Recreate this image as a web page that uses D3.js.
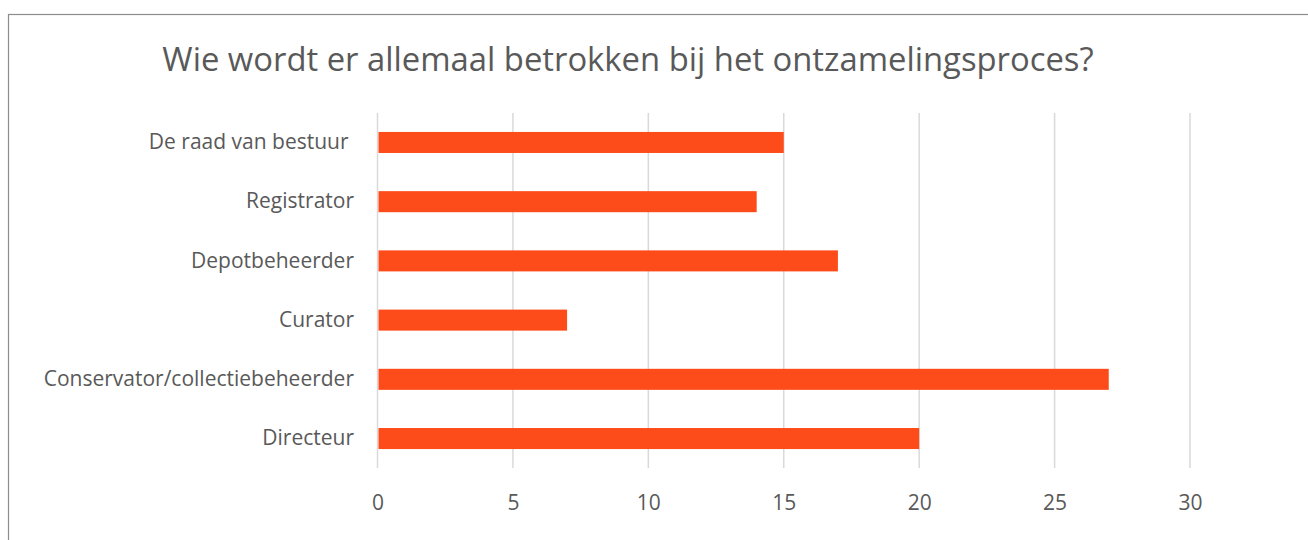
<!DOCTYPE html>
<html>
<head>
<meta charset="utf-8">
<script src="https://cdn.jsdelivr.net/npm/d3@7"></script>
<style>
  body { margin: 0; background: #fff; }
  text { font-family: "Open Sans", sans-serif; fill: #595959; }
</style>
</head>
<body>
<svg width="1308" height="540"></svg>
<script>
// chart data
var categories = ["De raad van bestuur ", "Registrator", "Depotbeheerder", "Curator", "Conservator/collectiebeheerder", "Directeur"];
var values = [15, 14, 17, 7, 27, 20];
var tickValues = [0, 5, 10, 15, 20, 25, 30];
var title = "Wie wordt er allemaal betrokken bij het ontzamelingsproces?";

var svg = d3.select("svg"),
  margin = {top: 113, right: 118, bottom: 72, left: 377.5},
  width = svg.attr("width") - margin.left - margin.right,
  height = svg.attr("height") - margin.top - margin.bottom,
  g = svg.append("g").attr("transform", "translate(" + margin.left + "," + margin.top + ")");

// chart area border (runs off the right and bottom)
svg.append("rect")
  .attr("x", 8.5).attr("y", 14.5)
  .attr("width", 1400).attr("height", 600)
  .attr("fill", "none")
  .attr("stroke", "#8c8c8c")
  .attr("stroke-width", 1.2);

svg.append("text")
  .attr("x", 628)
  .attr("y", 71)
  .attr("text-anchor", "middle")
  .style("font-size", "32.8px")
  .text(title);

var x = d3.scaleLinear().domain([0, 30]).range([0, width]);
var y = d3.scaleBand().domain(categories).range([0, height])
  .paddingInner(0.645).paddingOuter(0.32);

// gridlines
g.selectAll("line.grid")
  .data(tickValues)
  .enter().append("line")
  .attr("class", "grid")
  .attr("x1", d => x(d)).attr("x2", d => x(d))
  .attr("y1", 0).attr("y2", height)
  .attr("stroke", "#d9d9d9")
  .attr("stroke-width", 1.5);

g.selectAll("rect.bar")
  .data(values)
  .enter().append("rect")
  .attr("class", "bar")
  .attr("x", x(0) + 1)
  .attr("y", (d, i) => y(categories[i]))
  .attr("width", d => x(d) - x(0) - 1)
  .attr("height", y.bandwidth())
  .attr("fill", "#fe4b1a");

var xAxis = g.append("g")
  .attr("transform", "translate(0," + height + ")")
  .call(d3.axisBottom(x).tickValues(tickValues).tickSize(0).tickPadding(27));
xAxis.select(".domain").remove();
xAxis.selectAll("text").style("font-size", "21px").style("fill", "#595959")
  .style("font-family", "'Open Sans', sans-serif");

var yAxis = g.append("g")
  .call(d3.axisLeft(y).tickSize(0).tickPadding(23.5));
yAxis.select(".domain").remove();
yAxis.selectAll("text").style("font-size", "21px").style("fill", "#595959")
  .style("font-family", "'Open Sans', sans-serif")
  .style("white-space", "pre");
</script>
</body>
</html>
